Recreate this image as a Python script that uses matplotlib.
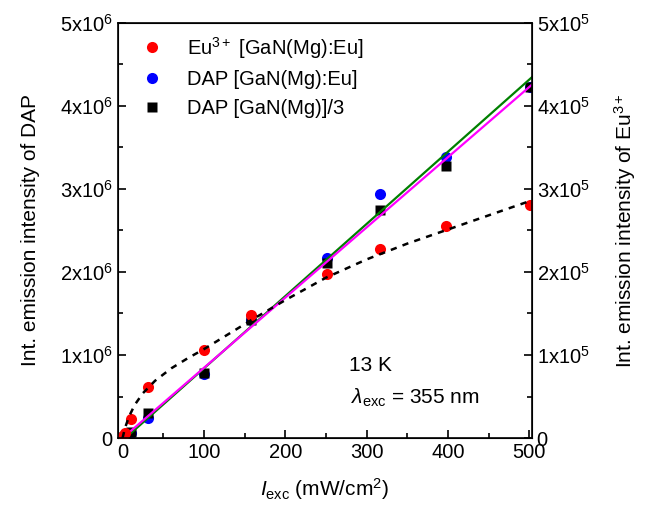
import matplotlib.pyplot as plt
from matplotlib.ticker import FuncFormatter, MultipleLocator

plt.rcParams['font.family'] = ['Liberation Sans', 'DejaVu Sans']
plt.rcParams['mathtext.fontset'] = 'custom'
plt.rcParams['mathtext.rm'] = 'Liberation Sans'
plt.rcParams['mathtext.it'] = 'Liberation Sans:italic'
plt.rcParams['font.size'] = 14.5

# excitation power density (mW/cm2)
power = [1, 3.16, 10, 31.6, 100, 158, 251, 316, 398, 501]
# Eu3+ intensity, GaN(Mg):Eu (x1e5)
eu = [0.03, 0.06, 0.23, 0.61, 1.06, 1.48, 1.98, 2.28, 2.55, 2.80]
# DAP intensity, GaN(Mg):Eu (x1e6)
dap_eu = [0.01, 0.03, 0.06, 0.245, 0.77, 1.42, 2.17, 2.94, 3.38, 4.22]
# DAP intensity, GaN(Mg) divided by 3 (x1e6)
dap_mg = [0.01, 0.03, 0.07, 0.30, 0.78, 1.42, 2.11, 2.74, 3.27, 4.22]

# fit lines
fit_x = [0, 503]
fit_green = [-0.03, 4.34]    # x1e6
fit_magenta = [0.0, 4.25]    # x1e6
curve_x = [0, 3, 8, 15, 25, 40, 60, 80, 100, 130, 160, 200, 250, 300, 350, 400, 450, 500]
curve_eu = [0, 0.12, 0.26, 0.40, 0.54, 0.69, 0.84, 0.96, 1.07, 1.25, 1.43, 1.66, 1.93,
            2.15, 2.34, 2.51, 2.68, 2.85]  # x1e5

fig = plt.figure(figsize=(6.5, 5.13), dpi=100)
ax = fig.add_axes([0.181, 0.146, 0.637, 0.810])
ax2 = ax.twinx()

ax.plot(power, [v * 1e6 for v in dap_eu], 'o', color='#0000ff', ms=8, mec='none',
        label='DAP [GaN(Mg):Eu]')
ax.plot(power, [v * 1e6 for v in dap_mg], 's', color='black', ms=7.5, mec='none',
        label='DAP [GaN(Mg)]/3')
ax.plot(fit_x, [v * 1e6 for v in fit_green], color='#008000', lw=1.6)
ax.plot(fit_x, [v * 1e6 for v in fit_magenta], color='#ff00ff', lw=1.6)

ax2.plot(power, [v * 1e5 for v in eu], 'o', color='#ff0000', ms=8, mec='none',
         label='Eu$^{3+}$ [GaN(Mg):Eu]')
ax2.plot(curve_x, [v * 1e5 for v in curve_eu], '--', color='black', lw=1.8, dashes=(2.5, 2.5))

ax.set_xlim(-6, 503)
ax.set_ylim(0, 5e6)
ax2.set_ylim(0, 5e5)

ax.xaxis.set_major_locator(MultipleLocator(100))
ax.xaxis.set_minor_locator(MultipleLocator(50))
ax.yaxis.set_major_locator(MultipleLocator(1e6))
ax.yaxis.set_minor_locator(MultipleLocator(5e5))
ax2.yaxis.set_major_locator(MultipleLocator(1e5))
ax2.yaxis.set_minor_locator(MultipleLocator(5e4))


def sci_fmt(exp):
    def f(v, pos):
        n = int(round(v / 10 ** exp))
        if n == 0:
            return '0'
        return r'$\mathregular{%dx10^{%d}}$' % (n, exp)
    return f


ax.yaxis.set_major_formatter(FuncFormatter(sci_fmt(6)))
ax2.yaxis.set_major_formatter(FuncFormatter(sci_fmt(5)))

ax.tick_params(which='both', direction='in', top=False, width=1.2, labelsize=14.5)
ax.tick_params(which='major', length=6)
ax.tick_params(which='minor', length=3.5)
ax2.tick_params(which='both', direction='in', width=1.2, labelsize=14.5)
ax2.tick_params(which='major', length=6)
ax2.tick_params(which='minor', length=3.5)
for sp in ax2.spines.values():
    sp.set_linewidth(1.2)

ax.set_xlabel(r'$I_{\mathrm{exc}}$ (mW/cm$^2$)', fontsize=15, labelpad=10)
ax.set_ylabel('Int. emission intensity of DAP', fontsize=15, labelpad=14)
ax2.set_ylabel('Int. emission intensity of Eu$^{3+}$', fontsize=15, labelpad=16)

ax2.text(278, 0.87e5, '13 K', fontsize=15, va='center')
ax2.text(281, 0.49e5, r'$\lambda_{\mathrm{exc}}$ = 355 nm', fontsize=15, va='center')

h1, l1 = ax.get_legend_handles_labels()
h2, l2 = ax2.get_legend_handles_labels()
ax2.legend(h2 + h1, l2 + l1, loc='upper left', frameon=False, fontsize=14.5,
           handletextpad=0.7, borderaxespad=0, labelspacing=0.48,
           bbox_to_anchor=(0.016, 0.99))

fig.savefig('out.png', dpi=100)
